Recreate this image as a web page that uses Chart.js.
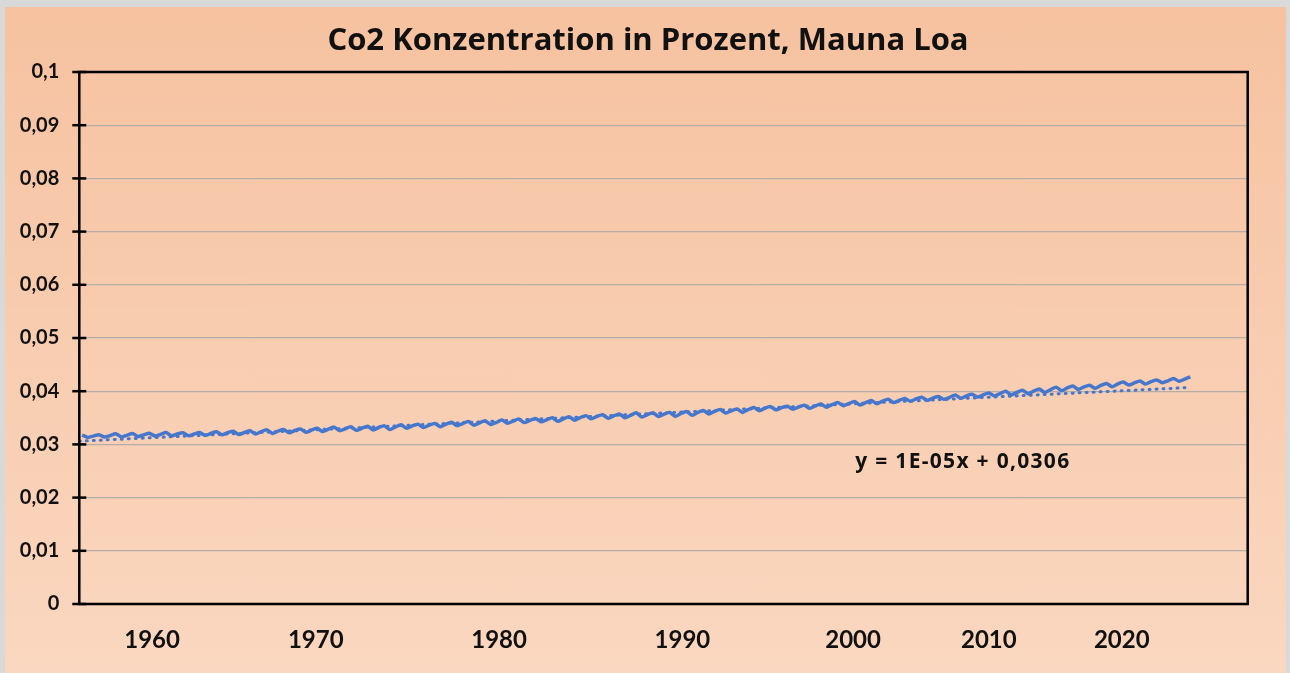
<!DOCTYPE html>
<html>
<head>
<meta charset="utf-8">
<script src="https://cdn.jsdelivr.net/npm/chart.js@4.4.1/dist/chart.umd.min.js"></script>
<style>
    html, body { margin: 0; padding: 0; background: #d9d9d9; width: 1290px; height: 673px; overflow: hidden; }
    #box {
        position: absolute; left: 5px; top: 7px; width: 1281px; height: 666px;
        background: linear-gradient(to bottom, #f6c2a0, #fad7c0);
    }
    canvas { display: block; }
</style>
</head>
<body>
<div id="box"><canvas id="chart" width="1281" height="666"></canvas></div>
<script>
// Mauna Loa CO2 in percent, three samples per year (Jan, May, Sep)
const years = [];
for (let y = 1958; y <= 2024; y++) years.push(y);
const sampleMonths = [1, 5, 9];

const janValues = [null,
    0.031562, 0.031643, 0.031689, 0.031794, 0.031874, 0.031957, 0.031944, 0.032062, 0.032207, 0.032242,
    0.032407, 0.032506, 0.032617, 0.032677, 0.032855, 0.032935, 0.033040, 0.033174, 0.033292, 0.033497,
    0.033623, 0.033793, 0.033920, 0.034057, 0.034119, 0.034370, 0.034497, 0.034629, 0.034802, 0.035043,
    0.035276, 0.035366, 0.035472, 0.035598, 0.035710, 0.035836, 0.035996, 0.036205, 0.036318, 0.036532,
    0.036815, 0.036914, 0.037028, 0.037243, 0.037468, 0.037679, 0.037846, 0.038138, 0.038289, 0.038554,
    0.038692, 0.038845, 0.039119, 0.039312, 0.039555, 0.039780, 0.039996, 0.040256, 0.040617, 0.040796,
    0.041083, 0.041340, 0.041552, 0.041819, 0.041947, 0.042280];
const mayValues = [0.031751,
    0.031829, 0.032004, 0.032061, 0.032109, 0.032221, 0.032208, 0.032232, 0.032397, 0.032488, 0.032568,
    0.032733, 0.032813, 0.032877, 0.033016, 0.033248, 0.033309, 0.033398, 0.033487, 0.033675, 0.033801,
    0.033945, 0.034147, 0.034306, 0.034427, 0.034585, 0.034760, 0.034873, 0.035007, 0.035188, 0.035408,
    0.035571, 0.035707, 0.035934, 0.035960, 0.036013, 0.036198, 0.036365, 0.036546, 0.036669, 0.036946,
    0.037100, 0.037182, 0.037371, 0.037580, 0.037855, 0.038063, 0.038247, 0.038498, 0.038641, 0.038852,
    0.039018, 0.039304, 0.039416, 0.039678, 0.039976, 0.040188, 0.040394, 0.040766, 0.040965, 0.041124,
    0.041466, 0.041731, 0.041913, 0.042099, 0.042400, 0.042690];
const sepValues = [0.031320,
    0.031384, 0.031416, 0.031504, 0.031572, 0.031609, 0.031644, 0.031701, 0.031810, 0.031847, 0.031932,
    0.032067, 0.032190, 0.032284, 0.032406, 0.032588, 0.032657, 0.032723, 0.032783, 0.033018, 0.033160,
    0.033326, 0.033528, 0.033619, 0.033734, 0.033979, 0.034094, 0.034242, 0.034344, 0.034545, 0.034801,
    0.034907, 0.034992, 0.035147, 0.035248, 0.035296, 0.035490, 0.035714, 0.035889, 0.036004, 0.036338,
    0.036495, 0.036612, 0.036782, 0.036971, 0.037270, 0.037397, 0.037656, 0.037859, 0.038093, 0.038309,
    0.038468, 0.038686, 0.038892, 0.039109, 0.039333, 0.039536, 0.039763, 0.040103, 0.040338, 0.040551,
    0.040854, 0.041151, 0.041330, 0.041595, 0.041851, null];

// linear trend as shown in the picture (first and last month)
const trendStart = 0.0306;
const trendEnd = 0.0407;

// x axis labels as they sit on the month index axis (Mar 1958 = 1)
const xTickLabels = ["1960", "1970", "1980", "1990", "2000", "2010", "2020"];
const xTickAt = [53, 170, 301, 432, 554, 651, 746];

const titleText = "Co2 Konzentration in Prozent, Mauna Loa";
const equationText = "y = 1E-05x + 0,0306";

const monthIndex = (year, month) => (year - 1958) * 12 + month - 2;

const seriesPoints = [];
years.forEach((year, i) => {
    [janValues[i], mayValues[i], sepValues[i]].forEach((v, k) => {
        if (v !== null) seriesPoints.push({ x: monthIndex(year, sampleMonths[k]), y: v });
    });
});
const trendPoints = [
    { x: 1, y: trendStart },
    { x: monthIndex(2024, 5), y: trendEnd }
];

const fontFamily = "Lato, 'Open Sans', sans-serif";
const wideFont = "'Open Sans', Lato, sans-serif";

const framePlugin = {
    id: "frame",
    afterDraw: chart => {
        const ctx = chart.ctx;
        const area = chart.chartArea;
        const yScale = chart.scales.y;
        ctx.save();
        ctx.strokeStyle = "#000";
        ctx.lineWidth = 2.5;
        ctx.strokeRect(area.left, area.top, area.right - area.left, area.bottom - area.top);
        yScale.ticks.forEach(t => {
            const py = yScale.getPixelForValue(t.value);
            ctx.beginPath();
            ctx.moveTo(area.left - 7, py);
            ctx.lineTo(area.left + 7, py);
            ctx.stroke();
        });

        ctx.fillStyle = "#111";
        ctx.textAlign = "center";
        ctx.textBaseline = "middle";
        ctx.font = "bold 31px " + wideFont;
        ctx.fillText(titleText, 643, 34);

        // equation of the trend line
        ctx.textAlign = "left";
        ctx.font = "bold 21px " + wideFont;
        ctx.letterSpacing = "1.3px";
        ctx.fillText(equationText, area.left + 776, area.top + 390);
        ctx.restore();
    }
};

new Chart(document.getElementById("chart"), {
    type: "line",
    data: {
        datasets: [
            {
                data: seriesPoints,
                borderColor: "#4677cc",
                borderWidth: 3.5,
                pointRadius: 0,
                tension: 0.2,
                order: 0
            },
            {
                data: trendPoints,
                borderColor: "#4677cc",
                borderWidth: 3,
                borderDash: [1, 6],
                borderCapStyle: "round",
                pointRadius: 0,
                order: 1
            }
        ]
    },
    options: {
        responsive: false,
        animation: false,
        layout: { padding: { top: 65, right: 38.3, bottom: 0, left: 0 } },
        plugins: {
            legend: { display: false },
            tooltip: { enabled: false }
        },
        scales: {
            x: {
                type: "linear",
                min: 1,
                max: 836,
                grid: { display: false, drawTicks: false },
                border: { display: false },
                ticks: {
                    autoSkip: false,
                    maxRotation: 0,
                    padding: 22,
                    color: "#111",
                    font: { family: fontFamily, size: 24, weight: "bold" },
                    callback: value => xTickLabels[xTickAt.indexOf(value)]
                },
                afterBuildTicks: scale => {
                    scale.ticks = xTickAt.map(v => ({ value: v }));
                },
                afterFit: scale => { scale.height = 69; }
            },
            y: {
                min: 0,
                max: 0.1,
                grid: { color: "#b5aca6", lineWidth: 1.2, drawTicks: false },
                border: { display: false },
                ticks: {
                    stepSize: 0.01,
                    padding: 20,
                    color: "#111",
                    font: { family: fontFamily, size: 20, weight: "bold" },
                    callback: value => value.toLocaleString("de-DE")
                },
                afterFit: scale => { scale.width = 74.3; }
            }
        }
    },
    plugins: [framePlugin]
});
</script>
</body>
</html>
